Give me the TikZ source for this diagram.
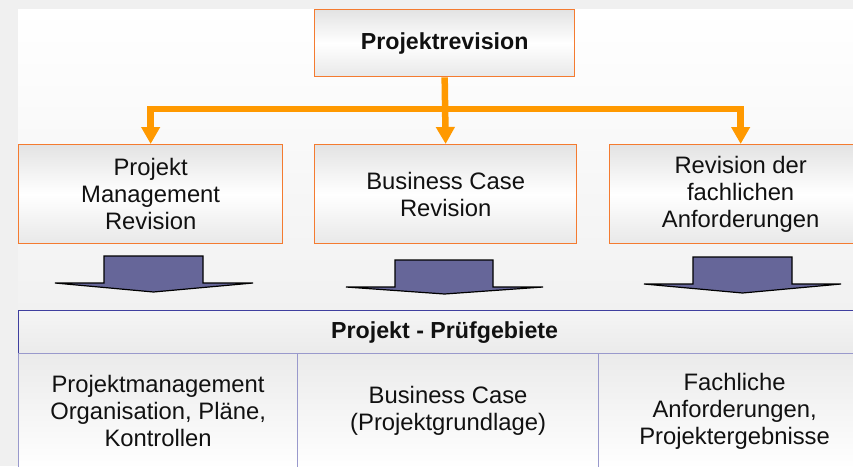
\documentclass[tikz,border=0pt]{standalone}
\usepackage{fontspec}
\setmainfont{Liberation Sans}
\usetikzlibrary{arrows.meta}
\definecolor{orangeline}{HTML}{FF9900}
\definecolor{boxborder}{HTML}{F47B30}
\definecolor{blockfill}{HTML}{666699}
\definecolor{hdrline}{HTML}{3F3F9F}
\definecolor{cellline}{HTML}{9999CC}
\definecolor{outerbg}{HTML}{F0F0F0}
\definecolor{panelbot}{HTML}{EAEAEA}
\definecolor{txt}{HTML}{111111}
\tikzset{
  revbox/.style={draw=boxborder, line width=1.3pt, top color=black!11, bottom color=black!9,
    middle color=white, align=center, inner sep=0pt, text=txt,
    font=\fontsize{23.8}{27}\selectfont, anchor=north west},
  hdrbox/.style={draw=hdrline, line width=1.3pt, top color=black!4, bottom color=black!8,
    align=center, inner sep=0pt, text=txt, font=\bfseries\fontsize{23.2}{27}\selectfont, anchor=north west},
  cellbox/.style={draw=cellline, line width=1.2pt, top color=black!8, bottom color=white,
    align=center, inner sep=0pt, text=txt, font=\fontsize{23.8}{27}\selectfont, anchor=north west},
  conn/.style={draw=orangeline, line width=6.5pt, line join=miter,
    -{Triangle[width=18pt,length=17pt]}},
  blockarrow/.style={fill=blockfill, draw=black, line width=1.2pt, line join=miter}
}
\begin{document}
\begin{tikzpicture}[x=1pt,y=-1pt]
\useasboundingbox (0,0) rectangle (853,466);
% background
\fill[outerbg] (0,0) rectangle (853,466);
\shade[top color=white, bottom color=panelbot] (18,9) rectangle (853,466);

% top box
\node[revbox, minimum width=260pt, minimum height=67pt, font=\bfseries\fontsize{23.2}{27}\selectfont]
  (top) at (314,9) {Projektrevision};

% revision boxes
\node[revbox, minimum width=264pt, minimum height=99pt] (left) at (18,144)
  {Projekt\\Management\\Revision};
\node[revbox, minimum width=262pt, minimum height=99pt] (mid) at (314,144)
  {Business Case\\Revision};
\node[revbox, minimum width=262pt, minimum height=99pt] (right) at (609,144)
  {Revision der\\fachlichen\\Anforderungen};

% connectors
\coordinate (bar) at (444,109);
\draw[conn] (top.south) -- (mid.north);
\draw[conn] (bar) -| (left.north);
\draw[conn] (bar) -| (right.north);

% block arrows
\draw[blockarrow] (104,256) -- (203,256) -- (203,283) -- (253,283) -- (153.5,292)
  -- (55,283) -- (104,283) -- cycle;
\draw[blockarrow] (395,260) -- (493,260) -- (493,287) -- (543,287) -- (444.5,294)
  -- (346,287) -- (395,287) -- cycle;
\draw[blockarrow] (693,257) -- (792,257) -- (792,284) -- (841,284) -- (742.5,293)
  -- (644,284) -- (693,284) -- cycle;

% header
\node[hdrbox, minimum width=852pt, minimum height=43pt] (hdr) at (18,310)
  {Projekt - Prüfgebiete};

% cells
\node[cellbox, minimum width=279pt, minimum height=115pt] (c1) at (18,353)
  {Projektmanagement\\Organisation, Pläne,\\Kontrollen};
\node[cellbox, minimum width=301pt, minimum height=115pt] (c2) at (297,353)
  {Business Case\\(Projektgrundlage)};
\node[cellbox, minimum width=272pt, minimum height=115pt] (c3) at (598,353)
  {Fachliche\\Anforderungen,\\Projektergebnisse};
\end{tikzpicture}
\end{document}
